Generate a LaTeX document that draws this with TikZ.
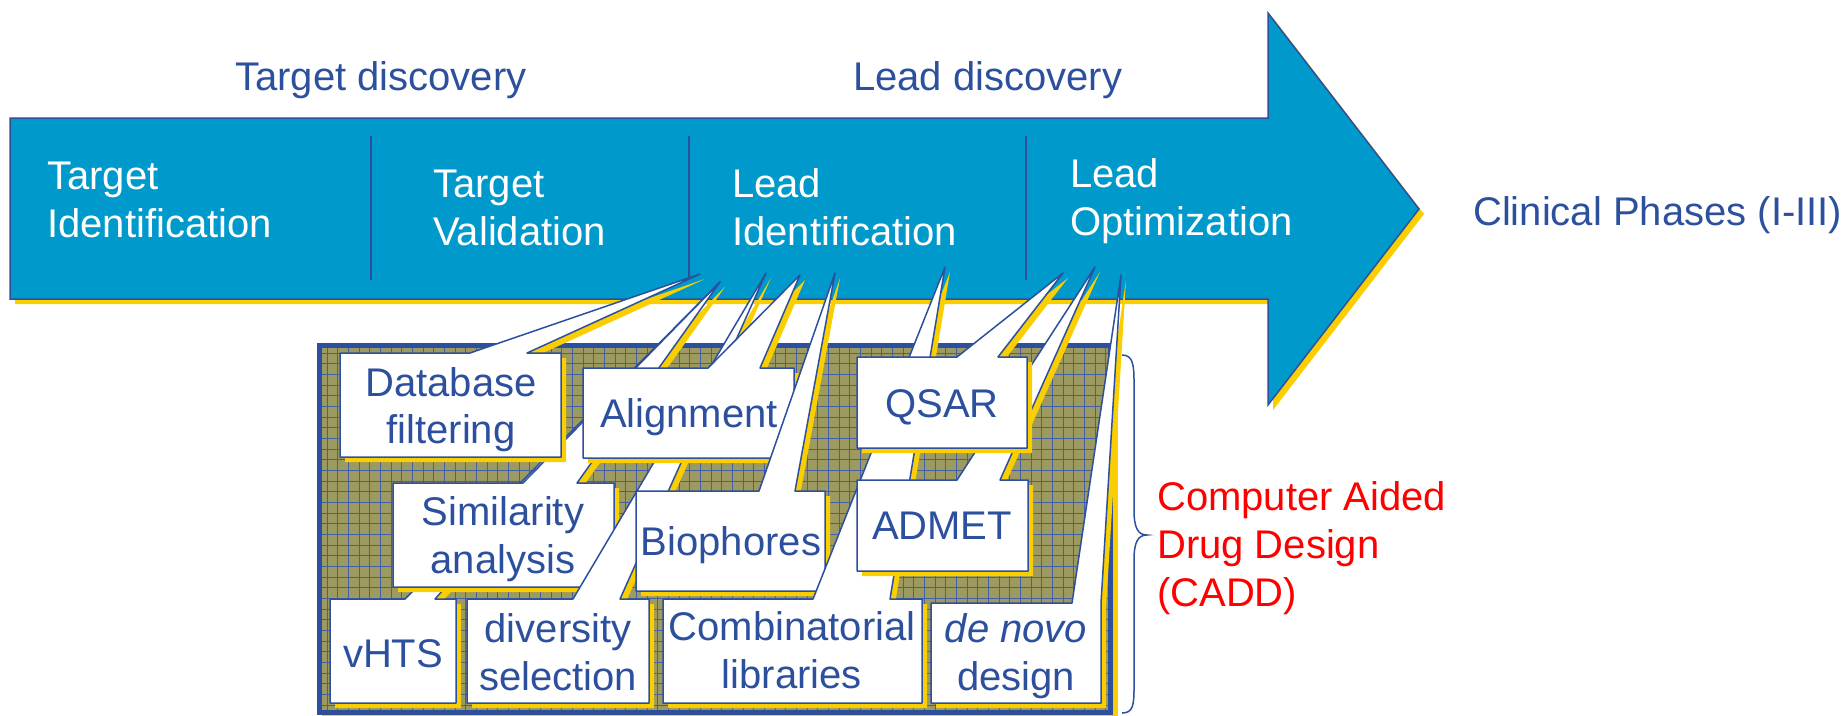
\documentclass[tikz,border=0pt]{standalone}
\usepackage{fontspec}
\setmainfont{Liberation Sans}
\definecolor{arrowblue}{RGB}{0,153,204}
\definecolor{dblue}{RGB}{44,80,158}
\definecolor{shyellow}{RGB}{250,206,0}
\definecolor{olivefill}{RGB}{156,154,96}
\definecolor{gridblue}{RGB}{66,96,170}
\definecolor{caddred}{RGB}{255,0,0}
\newcommand\mycallout[1]{%
  \fill[shyellow, shift={(5,5)}] #1;
  \filldraw[fill=white, draw=dblue, line width=1.5, line join=round] #1;}
\begin{document}
\begin{tikzpicture}[x=1pt,y=-1pt,
  txt/.style={inner sep=0pt, font=\fontsize{40}{48}\selectfont},
  wtxt/.style={txt, text=white, anchor=base west},
  btxt/.style={txt, text=dblue, anchor=base},
  htxt/.style={txt, text=dblue, anchor=base west},
  rtxt/.style={txt, text=caddred, anchor=base west},
  gridline/.style={gridblue, line width=0.9}]
\useasboundingbox (0,0) rectangle (1843,715);
% main arrow
\fill[shyellow, shift={(5,5)}] (10,118) -- (1268,118) -- (1268,13) -- (1419,209) -- (1268,405) -- (1268,299) -- (10,299) -- cycle;
\filldraw[fill=arrowblue, draw=dblue, line width=1.5] (10,118) -- (1268,118) -- (1268,13) -- (1419,209) -- (1268,405) -- (1268,299) -- (10,299) -- cycle;
\draw[dblue, line width=1.5] (371,136) -- (371,280) (689,136) -- (689,277) (1026,136) -- (1026,280);
% arrow texts
\node[wtxt] (ti1) at (47,189) {Target};
\node[wtxt] (ti2) at (47,237) {Identification};
\node[wtxt] (tv1) at (433,197) {Target};
\node[wtxt] (tv2) at (433,245) {Validation};
\node[wtxt] (li1) at (732,197) {Lead};
\node[wtxt] (li2) at (732,245) {Identification};
\node[wtxt] (lo1) at (1070,187) {Lead};
\node[wtxt] (lo2) at (1070,235) {Optimization};
\node[htxt] (td) at (235,90) {Target discovery};
\node[htxt] (ld) at (853,90) {Lead discovery};
\node[htxt] (cp) at (1473,225) {Clinical Phases (I-III)};
% CADD box
\fill[shyellow] (322,348) rectangle (1118,720);
\fill[olivefill] (317,343) rectangle (1113,715);
\foreach \gx in {327,337.67,...,1108} \draw[gridline] (\gx,348) -- (\gx,715);
\foreach \gy in {353,363.67,...,715} \draw[gridline] (322,\gy) -- (1108,\gy);
\draw[dblue, line width=5] (319.5,345.5) rectangle (1110.5,712.5);
% callouts
\mycallout{(330,599) -- (405,599) -- (720,282) -- (435,599) -- (456,599) -- (456,703) -- (330,703) -- cycle}
\mycallout{(393,483) -- (523,483) -- (720,282) -- (577,483) -- (614,483) -- (614,587) -- (393,587) -- cycle}
\mycallout{(340,353) -- (470,353) -- (700,274) -- (527,353) -- (561,353) -- (561,457) -- (340,457) -- cycle}
\mycallout{(467,599) -- (573,599) -- (766,273) -- (620,599) -- (649,599) -- (649,703) -- (467,703) -- cycle}
\mycallout{(583,368) -- (708,368) -- (800,275) -- (760,368) -- (794,368) -- (794,458) -- (583,458) -- cycle}
\mycallout{(636,491) -- (759,491) -- (835,273) -- (795,491) -- (825,491) -- (825,591) -- (636,591) -- cycle}
\mycallout{(663,599) -- (813,599) -- (945,267) -- (890,599) -- (922,599) -- (922,703) -- (663,703) -- cycle}
\mycallout{(857,480) -- (957,480) -- (1095,267) -- (1000,480) -- (1028,480) -- (1028,571) -- (857,571) -- cycle}
\mycallout{(857,357) -- (957,357) -- (1063,273) -- (998,357) -- (1027,357) -- (1027,448) -- (857,448) -- cycle}
\mycallout{(931,603) -- (1072,603) -- (1121,275) -- (1101,603) -- (1101,703) -- (931,703) -- cycle}
% callout texts
\node[btxt] (db1) at (451,396) {Database};
\node[btxt] (db2) at (451,443) {filtering};
\node[btxt] (al) at (689,427) {Alignment};
\node[btxt] (si1) at (503,525) {Similarity};
\node[btxt] (si2) at (503,573) {analysis};
\node[btxt] (bi) at (731,555) {Biophores};
\node[btxt] (vh) at (393,667) {vHTS};
\node[btxt] (dv1) at (558,642) {diversity};
\node[btxt] (dv2) at (558,690) {selection};
\node[btxt] (co1) at (792,640) {Combinatorial};
\node[btxt] (co2) at (792,688) {libraries};
\node[btxt] (dn1) at (1016,642) {\itshape de novo};
\node[btxt] (dn2) at (1016,690) {design};
\node[btxt] (qs) at (942,417) {QSAR};
\node[btxt] (ad) at (942,539) {ADMET};
% brace and CADD label
\coordinate (bt) at (1122,355);
\coordinate (bm) at (1147,535);
\coordinate (bb) at (1122,713);
\draw[dblue, line width=1.5] (bt) .. controls (1133,355) and (1134,365) .. (1134,382) -- (1134,510) .. controls (1134,528) and (1138,535) .. (bm) .. controls (1138,535) and (1134,542) .. (1134,560) -- (1134,688) .. controls (1134,705) and (1133,713) .. (bb);
\node[rtxt] (c1) at (1157,510) {Computer Aided};
\node[rtxt] (c2) at (1157,558) {Drug Design};
\node[rtxt] (c3) at (1157,606) {(CADD)};
\end{tikzpicture}
\end{document}
